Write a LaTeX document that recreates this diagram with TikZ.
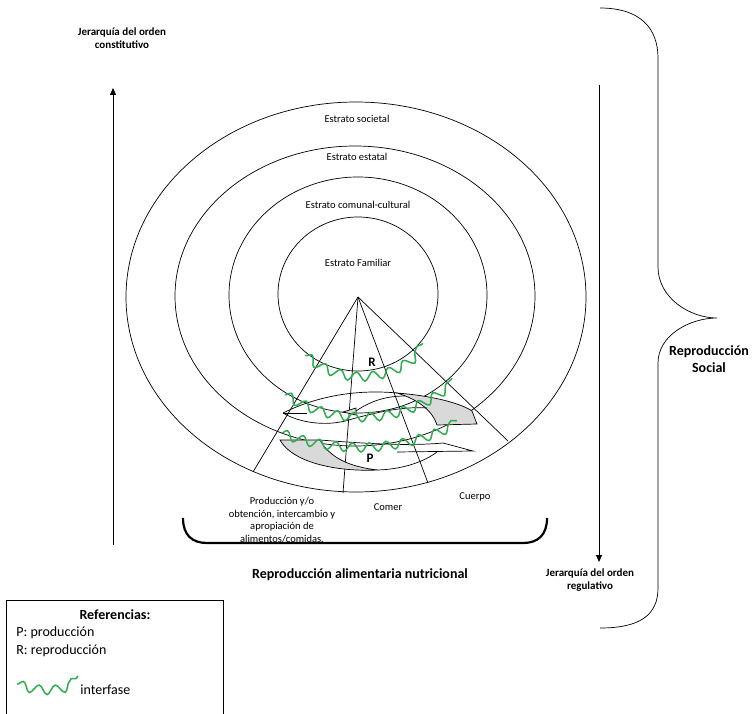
\documentclass[tikz,border=0pt]{standalone}
\usepackage{fontspec}
\setmainfont{Carlito}
\usepackage{tikz}
\usetikzlibrary{arrows.meta,decorations.pathmorphing}
\definecolor{verde}{RGB}{46,172,80}
\begin{document}
\begin{tikzpicture}[x=1pt,y=-1pt,line width=0.7pt,
    lbl/.style={font=\fontsize{10.5}{12.7}\selectfont,align=center,inner sep=0pt},
    tit/.style={font=\fontsize{11}{13.5}\selectfont\bfseries,align=center,inner sep=0pt},
    big/.style={font=\fontsize{14}{17.5}\selectfont\bfseries,align=center,inner sep=0pt},
    ref/.style={font=\fontsize{14}{17}\selectfont,anchor=west,inner sep=0pt},
    onda/.style={verde,line width=1.5pt,decorate,decoration={snake,segment length=17pt,amplitude=4.5pt}},
    flecha/.style={line width=0.9pt,-{Triangle[length=7pt,width=6pt]}}]
\useasboundingbox (0,0) rectangle (752,714);
\draw (356,297) ellipse [x radius=230,y radius=195];
\draw (355,296) ellipse [x radius=180,y radius=150];
\draw (358,295) ellipse [x radius=129,y radius=118];
\draw (358,294) ellipse [x radius=80,y radius=77];
\node[lbl] (soc) at (357,119) {Estrato societal};
\node[lbl] (est) at (357,157) {Estrato estatal};
\node[lbl] (com) at (358,205) {Estrato comunal-cultural};
\node[lbl] (fam) at (358,263) {Estrato Familiar};
\coordinate (o) at (358,297);
\coordinate (f1) at (253,472);
\coordinate (f2) at (343,493);
\coordinate (f3) at (428,483);
\coordinate (f4) at (508,441);
\foreach \f in {f1,f2,f3,f4} \draw (o) -- (\f);
% ciclo P - R
\draw[fill=gray!30] (397,393) .. controls (435,396) and (462,404) .. (472,411) -- (477,424) -- (437,425) .. controls (433,412) and (420,400) .. (397,393) -- cycle;
\draw (283,413) .. controls (315,397) and (355,389) .. (397,393);
\draw (283,413) .. controls (300,423) and (325,426) .. (345,421) .. controls (370,414) and (400,406) .. (427,408);
\draw (283,413) -- (307,413);
\draw[fill=gray!30] (343,412) -- (356,408) -- (356,415) -- cycle;
\draw (356,411) .. controls (372,400) and (388,396) .. (405,396);
\draw[fill=gray!30] (280,440) -- (320,440) .. controls (330,458) and (350,467) .. (378,470) .. controls (335,472) and (292,462) .. (280,440) -- cycle;
\draw (320,440) .. controls (370,444) and (410,446) .. (443,443) -- (473,451) -- (397,452);
\draw (378,470) .. controls (405,469) and (425,461) .. (437,452);
\draw[onda] (358,294) ++(130:82 and 80) arc[start angle=130,end angle=38,x radius=82,y radius=80];
\draw[onda] (358,295) ++(124:131 and 120) arc[start angle=124,end angle=44,x radius=131,y radius=120];
\draw[onda] (355,296) ++(114:182 and 150) arc[start angle=114,end angle=56,x radius=182,y radius=150];
\node[font=\fontsize{13}{15}\selectfont\bfseries] (r) at (372,362) {R};
\node[font=\fontsize{13}{15}\selectfont\bfseries] (p) at (370,458) {P};
\node[lbl] (prod) at (282,520) {Producción y/o\\obtención, intercambio y\\apropiación de\\alimentos/comidas.};
\node[lbl] (comer) at (388,507) {Comer};
\node[lbl] (cuerpo) at (475,497) {Cuerpo};
\draw[line width=2.2pt] (183,518) .. controls (183,535) and (192,543) .. (207,543) -- (523,543) .. controls (538,543) and (547,535) .. (547,518);
\node[big] (ran) at (360,575) {Reproducción alimentaria nutricional};
\node[tit] (jc) at (122,38) {Jerarquía del orden\\constitutivo};
\node[tit] (jr) at (590,580) {Jerarquía del orden\\regulativo};
\coordinate (ua) at (113,545);
\coordinate (ub) at (113,88);
\coordinate (da) at (599,85);
\coordinate (db) at (599,562);
\draw[flecha] (ua) -- (ub);
\draw[flecha] (da) -- (db);
\draw (600,8) .. controls (640,8) and (658,28) .. (658,58) -- (658,267) .. controls (658,298) and (690,318) .. (717,318) .. controls (690,318) and (658,335) .. (658,363) -- (658,588) .. controls (658,615) and (640,628) .. (600,628);
\node[big] (rs) at (709,359) {Reproducción\\Social};
\draw (6,716) -- (6,600) -- (223,600) -- (223,716);
\node[big] (refs) at (115,615) {Referencias:};
\node[ref] (lp) at (16,633) {P: producción};
\node[ref] (lr) at (16,651) {R: reproducción};
\coordinate (l1) at (17,684);
\coordinate (l2) at (78,676);
\draw[onda] (l1) .. controls (40,692) and (65,690) .. (l2);
\node[ref] (li) at (80,690) {interfase};
\end{tikzpicture}
\end{document}
